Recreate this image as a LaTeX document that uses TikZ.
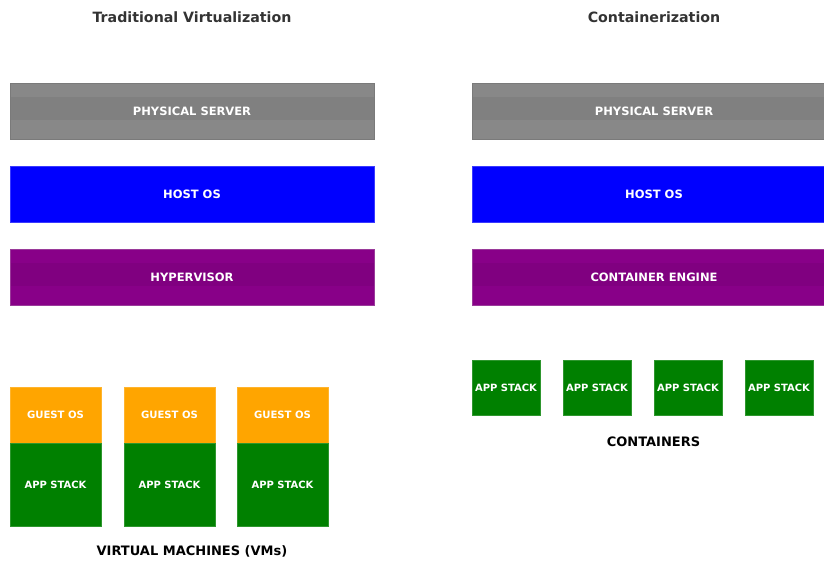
\documentclass[tikz,border=0pt]{standalone}
\usepackage{fontspec}
\setmainfont{DejaVu Sans}
\definecolor{psgrey}{HTML}{888888}
\definecolor{psband}{HTML}{808080}
\definecolor{psedge}{HTML}{7A7A7A}
\definecolor{hostblue}{HTML}{0000FF}
\definecolor{hostedge}{HTML}{3A3AFF}
\definecolor{hvpurple}{HTML}{880088}
\definecolor{hvband}{HTML}{800080}
\definecolor{hvedge}{HTML}{9A3A9A}
\definecolor{appgreen}{HTML}{008000}
\definecolor{appedge}{HTML}{2E962E}
\definecolor{guestorange}{HTML}{FFA500}
\definecolor{guestedge}{HTML}{FFB42E}
\definecolor{titlegrey}{HTML}{333333}
\tikzset{
  every node/.style={inner sep=0pt, outer sep=0pt},
  boxlabel/.style={text=white, font=\bfseries},
  layer/.style={boxlabel, minimum width=364pt, minimum height=56pt,
    line width=0.8pt, font=\fontsize{11.5}{13}\selectfont\bfseries},
  band/.style={path picture={\fill[#1]
    ([yshift=-13.5pt]path picture bounding box.north west) rectangle
    ([yshift=-36.5pt]path picture bounding box.north east);}},
  guestbox/.style={boxlabel, fill=guestorange, draw=guestedge, line width=0.6pt,
    minimum width=91pt, minimum height=56pt, font=\fontsize{10.1}{12}\selectfont\bfseries},
  vmapp/.style={boxlabel, fill=appgreen, draw=appedge, line width=0.6pt,
    minimum width=91pt, minimum height=83pt, font=\fontsize{10}{12}\selectfont\bfseries},
  ctapp/.style={boxlabel, fill=appgreen, draw=appedge, line width=0.6pt,
    minimum width=68pt, minimum height=55pt, font=\fontsize{10}{12}\selectfont\bfseries},
  heading/.style={text=titlegrey, font=\fontsize{14.2}{16}\selectfont\bfseries},
  caption/.style={text=black, font=\fontsize{13}{15}\selectfont\bfseries},
}
\begin{document}
\begin{tikzpicture}[x=1pt, y=-1pt]
\useasboundingbox (0,0) rectangle (824,560);
\clip (0,0) rectangle (824,560);

% Traditional virtualization stack
\node[heading] (t1) at (192,17) {Traditional Virtualization};
\node[layer, fill=psgrey, draw=psedge, band=psband] (ps1) at (192,111) {PHYSICAL SERVER};
\node[layer, fill=hostblue, draw=hostedge] (host1) at (192,194.5) {HOST OS};
\node[layer, fill=hvpurple, draw=hvedge, band=hvband] (hv) at (192,277) {HYPERVISOR};

\foreach \i/\x in {1/55.5, 2/169.5, 3/282.5} {
  \node[guestbox] (guest\i) at (\x,415) {GUEST OS};
  \node[vmapp, anchor=north] (vm\i) at (guest\i.south) {APP STACK};
}
\node[caption] (vms) at (192,551) {VIRTUAL MACHINES (VMs)};

% Containerization stack
\node[heading] (t2) at (654,17) {Containerization};
\node[layer, fill=psgrey, draw=psedge, band=psband] (ps2) at (654,111) {PHYSICAL SERVER};
\node[layer, fill=hostblue, draw=hostedge] (host2) at (654,194.5) {HOST OS};
\node[layer, fill=hvpurple, draw=hvedge, band=hvband] (ce) at (654,277) {CONTAINER ENGINE};

\foreach \i/\x in {1/506, 2/597, 3/688, 4/779} {
  \node[ctapp] (ct\i) at (\x,387.5) {APP STACK};
}
\node[caption] (cts) at (653.5,442) {CONTAINERS};
\end{tikzpicture}
\end{document}
